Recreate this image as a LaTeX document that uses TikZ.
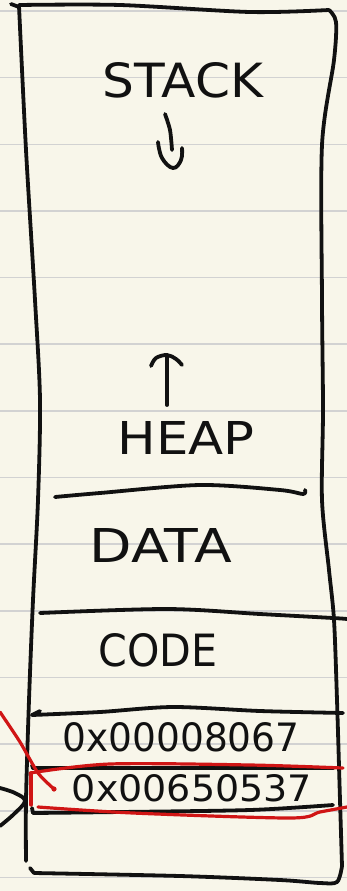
\documentclass[tikz,border=0pt]{standalone}
\usepackage{fontspec}
\usepackage{graphicx}
\newfontfamily\hand{DejaVu Sans}
\definecolor{paper}{HTML}{F8F6EA}
\definecolor{ruleline}{HTML}{D2D2D2}
\definecolor{pen}{HTML}{111111}
\definecolor{marker}{HTML}{D01515}

\begin{document}
\begin{tikzpicture}[x=1pt,y=-1pt,
  ink/.style={draw=pen, line width=3.8pt, line cap=round, line join=round},
  redink/.style={draw=marker, line width=3.2pt, line cap=round, line join=round},
  handtext/.style={inner sep=0pt, text=pen},
  ruling/.style={draw=ruleline, line width=1.6pt}]

% notebook paper
\fill[paper] (0,0) rectangle (347,891);
\useasboundingbox (0,0) rectangle (347,891);
\foreach \k in {0,...,13}
  \draw[ruling] (0,{11+66.65*\k}) -- (347,{11+66.65*\k});

% outer memory block
\draw[ink] (11,4) -- (19,7);
\draw[ink] plot[smooth, tension=0.5] coordinates
  {(19,5) (120,5) (250,12) (329,10)};
\draw[ink] plot[smooth, tension=0.5] coordinates
  {(329,10) (336,22) (334,60) (322,145) (322,300) (323,410) (322,500) (329,570) (334,620) (337,700) (340,800) (342,866)};
\draw[ink] plot[smooth, tension=0.5] coordinates
  {(342,866) (337,882) (320,883) (280,880) (180,876) (34,873)};
\draw[ink] (30,868) -- (34,873);
\draw[ink] plot[smooth, tension=0.5] coordinates
  {(19,6) (26,150) (35,300) (40,400) (38,500) (33,600) (29,700) (26,800) (26,861)};

% section dividers
\draw[ink] plot[smooth, tension=0.5] coordinates
  {(55,497) (100,493) (200,485) (280,490) (303,494) (305,490)};
\draw[ink] plot[smooth, tension=0.5] coordinates
  {(40,613) (167,609) (260,614) (333,618) (347,619)};
\draw[ink] (40,711) -- (32,715);
\draw[ink] plot[smooth, tension=0.5] coordinates
  {(32,715) (100,712) (173,707) (260,711) (343,713)};
\draw[ink] (32,765) -- (33,768);
\draw[ink] plot[smooth, tension=0.5] coordinates
  {(33,768) (150,768) (333,768)};
\draw[ink] (32,808) -- (33,813);
\draw[ink] plot[smooth, tension=0.5] coordinates
  {(33,813) (120,812) (250,810) (333,805)};

% labels
\node[handtext] (stack) at (183,80) {\resizebox{160pt}{35pt}{\hand STACK}};
\node[handtext] (heap) at (186,438) {\resizebox{137pt}{33pt}{\hand HEAP}};
\node[handtext] (data) at (161,545) {\resizebox{142pt}{34pt}{\hand DATA}};
\node[handtext] (code) at (158,650) {\resizebox{119pt}{33pt}{\hand CODE}};
\node[handtext] (addrA) at (181,737) {\resizebox{237pt}{29pt}{\hand 0x00008067}};
\node[handtext] (addrB) at (192,788) {\resizebox{240pt}{27pt}{\hand 0x00650537}};

% growth arrows
\draw[ink] plot[smooth, tension=0.5] coordinates {(165,114) (170,130) (172,150)};
\draw[ink] plot[smooth, tension=0.7] coordinates {(158,142) (162,158) (173,168) (181,160) (182,148)};
\draw[ink] (167,405) -- (167,356);
\draw[ink] plot[smooth, tension=0.6] coordinates {(151,366) (156,358) (167,355) (176,359) (182,365)};

% highlighted word
\draw[redink] plot[smooth, tension=0.5] coordinates
  {(30,773) (110,764) (250,765) (343,768)};
\draw[redink] (31,773) -- (31,805);
\draw[redink] plot[smooth, tension=0.5] coordinates
  {(38,807) (133,813) (290,818) (320,812) (347,807)};
\draw[redink] plot[smooth, tension=0.4] coordinates
  {(0,712) (20,742) (38,773) (54,789)};
\fill[marker] (54,789) circle (2.6pt);

% pointer curve on the left margin
\draw[ink] plot[smooth, tension=0.6] coordinates
  {(0,788) (15,793) (25,801) (14,814) (0,826)};
\end{tikzpicture}
\end{document}
